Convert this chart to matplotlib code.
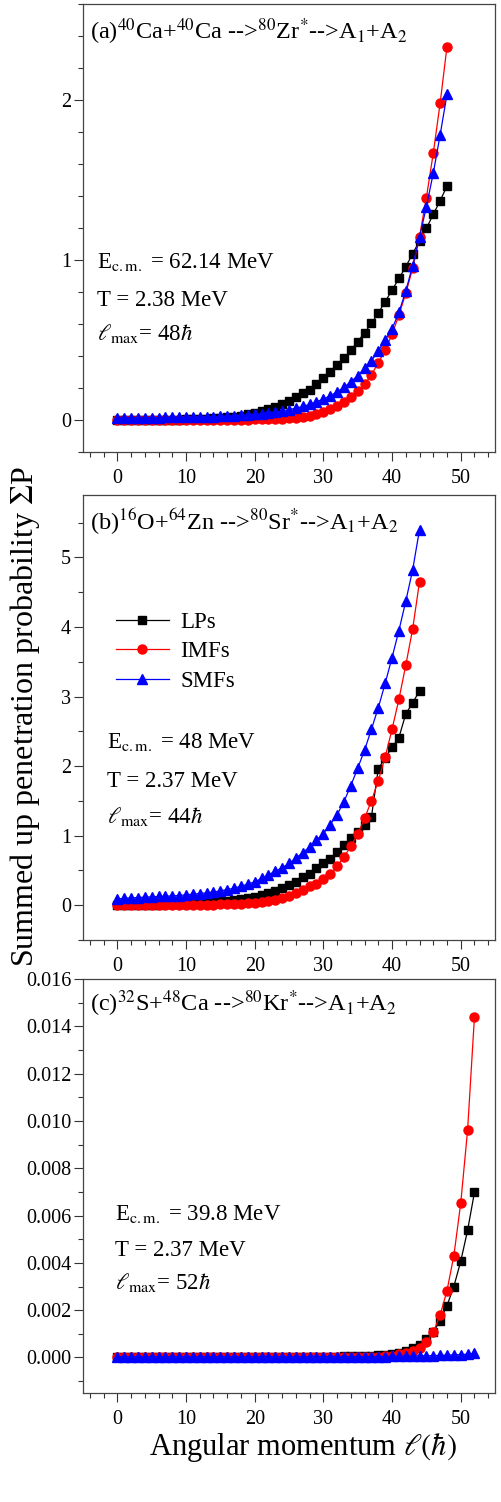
import matplotlib
matplotlib.use("Agg")
import matplotlib.pyplot as plt
from matplotlib.ticker import MultipleLocator, FormatStrFormatter

plt.rcParams["font.family"] = ["Liberation Serif", "DejaVu Serif"]
plt.rcParams["mathtext.fontset"] = "stix"

# ---- panel (a): 40Ca+40Ca, l = 0..48
l_a = list(range(0, 49))
lps_a = [0, 0, 0, 0.001, 0.001, 0.001, 0.002, 0.002, 0.003, 0.003,
         0.004, 0.005, 0.006, 0.008, 0.010, 0.013, 0.017, 0.022, 0.028, 0.035,
         0.044, 0.054, 0.067, 0.083, 0.100, 0.119, 0.142, 0.167, 0.190, 0.223,
         0.260, 0.302, 0.344, 0.385, 0.437, 0.490, 0.546, 0.604, 0.670, 0.740,
         0.812, 0.885, 0.958, 1.040, 1.120, 1.198, 1.285, 1.371, 1.462]
imfs_a = [0, 0, 0, 0, 0, 0, 0, 0, 0, 0,
          0.001, 0.001, 0.001, 0.001, 0.001, 0.002, 0.002, 0.002, 0.003, 0.003,
          0.004, 0.005, 0.006, 0.007, 0.009, 0.011, 0.014, 0.019, 0.026, 0.037,
          0.050, 0.067, 0.088, 0.115, 0.146, 0.183, 0.225, 0.283, 0.358, 0.437,
          0.535, 0.656, 0.792, 0.948, 1.146, 1.390, 1.667, 1.979, 2.333]
smfs_a = [0.015, 0.015, 0.015, 0.015, 0.016, 0.016, 0.016, 0.017, 0.017, 0.018,
          0.018, 0.019, 0.020, 0.021, 0.022, 0.023, 0.025, 0.027, 0.029, 0.032,
          0.036, 0.040, 0.045, 0.050, 0.057, 0.066, 0.075, 0.085, 0.098, 0.115,
          0.131, 0.152, 0.177, 0.204, 0.240, 0.277, 0.323, 0.371, 0.433, 0.500,
          0.570, 0.673, 0.806, 0.965, 1.142, 1.333, 1.542, 1.781, 2.035]

# ---- panel (b): 16O+64Zn, l = 0..44
l_b = list(range(0, 45))
lps_b = [0, 0.001, 0.002, 0.003, 0.005, 0.007, 0.009, 0.011, 0.014, 0.018,
         0.022, 0.027, 0.032, 0.038, 0.045, 0.053, 0.062, 0.072, 0.086, 0.100,
         0.120, 0.144, 0.177, 0.206, 0.240, 0.290, 0.336, 0.400, 0.455, 0.530,
         0.600, 0.670, 0.770, 0.860, 0.960, 1.050, 1.150, 1.270, 1.960, 2.120,
         2.270, 2.410, 2.750, 2.910, 3.080]
imfs_b = [0, 0, 0, 0, 0, 0.001, 0.001, 0.001, 0.002, 0.002,
          0.003, 0.004, 0.005, 0.006, 0.008, 0.012, 0.015, 0.019, 0.024, 0.029,
          0.038, 0.048, 0.062, 0.080, 0.105, 0.139, 0.177, 0.225, 0.270, 0.310,
          0.370, 0.450, 0.560, 0.690, 0.850, 1.020, 1.250, 1.500, 1.790, 2.130,
          2.530, 2.960, 3.450, 3.970, 4.650]
smfs_b = [0.086, 0.100, 0.105, 0.110, 0.115, 0.120, 0.125, 0.129, 0.134, 0.139,
          0.149, 0.158, 0.168, 0.177, 0.190, 0.206, 0.225, 0.244, 0.273, 0.302,
          0.336, 0.384, 0.436, 0.489, 0.537, 0.600, 0.680, 0.753, 0.840, 0.935,
          1.030, 1.160, 1.300, 1.490, 1.720, 1.970, 2.230, 2.530, 2.840, 3.190,
          3.560, 3.950, 4.370, 4.820, 5.400]

# ---- panel (c): 32S+48Ca, l = 0..52
l_c = list(range(0, 53))
lps_c = [0] * 20 + [
    0.00001, 0.00001, 0.00001, 0.00001, 0.00002, 0.00002, 0.00002, 0.00002, 0.00003, 0.00003,
    0.00003, 0.00004, 0.00004, 0.00005, 0.00005, 0.00006, 0.00007, 0.00008, 0.00009, 0.00012,
    0.00016, 0.00021, 0.00028, 0.00039, 0.00054, 0.00078, 0.00108, 0.00155, 0.00219, 0.00300,
    0.00406, 0.00537, 0.00698]
imfs_c = [0] * 30 + [
    0.00001, 0.00001, 0.00001, 0.00002, 0.00002, 0.00002, 0.00003, 0.00003, 0.00004, 0.00005,
    0.00008, 0.00013, 0.00018, 0.00028, 0.00042, 0.00066, 0.00106, 0.00179, 0.00282, 0.00430,
    0.00651, 0.00960, 0.01439]
smfs_c = [0.00003] * 30 + [0.00004] * 10 + [
    0.00005, 0.00005, 0.00006, 0.00006, 0.00007, 0.00007, 0.00008, 0.00009, 0.00010, 0.00011,
    0.00012, 0.00014, 0.00017]

titles = [r"(a)$^{40}$Ca+$^{40}$Ca -->$^{80}$Zr$^{*}$-->A$_{1}$+A$_{2}$",
          r"(b)$^{16}$O+$^{64}$Zn -->$^{80}$Sr$^{*}$-->A$_{1}$+A$_{2}$",
          r"(c)$^{32}$S+$^{48}$Ca -->$^{80}$Kr$^{*}$-->A$_{1}$+A$_{2}$"]
ecm = ["62.14", "48", "39.8"]
temp = ["2.38", "2.37", "2.37"]
lmax = ["48", "44", "52"]

fig = plt.figure(figsize=(5.01, 15.02), dpi=100)
left, width = 0.1657, 0.8224
boxes = [(0.699, 0.2983), (0.3742, 0.2963), (0.0726, 0.2756)]
ylims = [(-0.2, 2.6), (-0.5, 5.9), (-0.0015, 0.016)]
ymajor = [1, 1, 0.002]
yminor = [0.2, 0.5, 0.001]
text_x = [0.033, 0.058, 0.078]
text_y = [(0.411, 0.326, 0.250), (0.431, 0.344, 0.263), (0.418, 0.331, 0.251)]

data = [(l_a, lps_a, imfs_a, smfs_a),
        (l_b, lps_b, imfs_b, smfs_b),
        (l_c, lps_c, imfs_c, smfs_c)]

for i, (bottom, height) in enumerate(boxes):
    ax = fig.add_axes([left, bottom, width, height])
    l, lp, imf, smf = data[i]
    ax.plot(l, lp, "-s", color="black", lw=0.9, ms=5.5, label="LPs")
    ax.plot(l, imf, "-o", color="red", lw=0.9, ms=6.5, label="IMFs")
    ax.plot(l, smf, "-^", color="blue", lw=0.9, ms=6.5, label="SMFs")

    ax.set_xlim(-5, 55)
    ax.set_ylim(*ylims[i])
    ax.xaxis.set_major_locator(MultipleLocator(10))
    ax.xaxis.set_minor_locator(MultipleLocator(2))
    ax.yaxis.set_major_locator(MultipleLocator(ymajor[i]))
    ax.yaxis.set_minor_locator(MultipleLocator(yminor[i]))
    if i == 2:
        ax.yaxis.set_major_formatter(FormatStrFormatter("%.3f"))
    ax.tick_params(which="both", direction="out", top=False, right=False,
                   width=0.8, labelsize=14.5, color="#333333")
    ax.tick_params(which="major", length=6.5)
    ax.tick_params(which="minor", length=3.5)
    ax.tick_params(axis="x", pad=6)
    ax.tick_params(axis="y", pad=2)
    for s in ax.spines.values():
        s.set_color("#444444")
        s.set_linewidth(0.9)

    ax.text(0.017, 0.922, titles[i], transform=ax.transAxes, fontsize=17.5,
            va="baseline", ha="left")
    ty = text_y[i]
    ax.text(text_x[i], ty[0], r"E$_{\rm c.m.}$ = " + ecm[i] + " MeV",
            transform=ax.transAxes, fontsize=16.5, va="baseline")
    ax.text(text_x[i], ty[1], "T = " + temp[i] + " MeV",
            transform=ax.transAxes, fontsize=16.5, va="baseline")
    ax.text(text_x[i], ty[2], r"$\ell_{\rm max}$= " + lmax[i] + r"$\hbar$",
            transform=ax.transAxes, fontsize=16.5, va="baseline")

    if i == 1:
        ax.legend(loc="upper left", bbox_to_anchor=(0.08, 0.737), frameon=False,
                  fontsize=16.5, handlelength=2.3, handletextpad=0.5,
                  labelspacing=0.36, borderpad=0, borderaxespad=0)

fig.text(0.05, 0.523, r"Summed up penetration probability $\Sigma$P",
         rotation=90, fontsize=23, ha="center", va="center")
fig.text(0.605, 0.031, r"Angular momentum $\ell(\hbar)$", fontsize=22,
         ha="center", va="baseline")

fig.savefig("out.png", dpi=100)
